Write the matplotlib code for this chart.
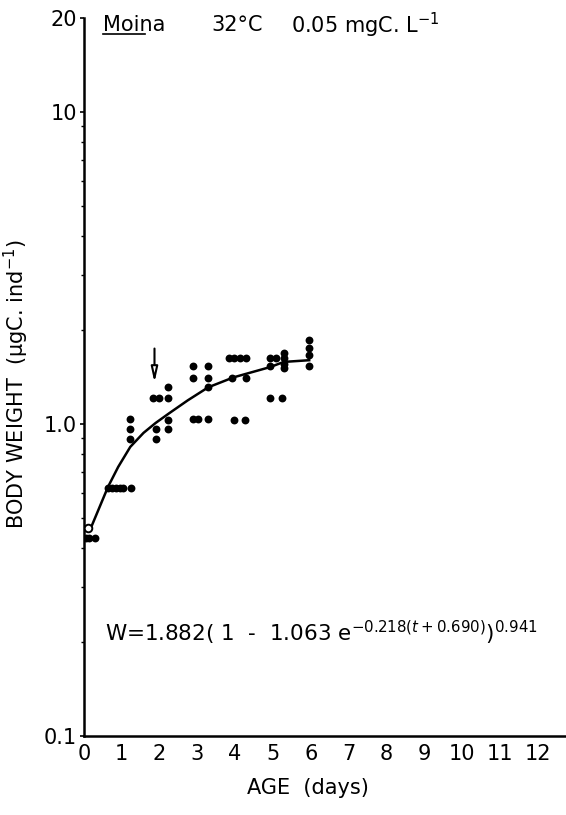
import numpy as np
import matplotlib
matplotlib.use("Agg")
import matplotlib.pyplot as plt
from matplotlib.ticker import FixedLocator, NullFormatter

# measured body weights (ugC per individual) against age (days)
age_pts = [0.05, 0.15, 0.3,
           0.65, 0.75, 0.85, 0.95, 1.05, 1.25,
           1.23, 1.23, 1.23,
           1.84, 1.98, 2.22, 2.22, 2.22, 1.9, 2.22, 1.9,
           2.89, 3.29, 2.89, 3.29, 3.29, 2.89, 3.02, 3.29,
           3.85, 3.98, 4.12, 4.30, 3.93, 4.30, 3.96, 4.25,
           4.92, 5.08, 5.29, 5.29, 5.29, 5.29, 4.92, 4.92, 5.24,
           5.96, 5.96, 5.96, 5.96]
weight_pts = [0.43, 0.43, 0.43,
              0.625, 0.625, 0.625, 0.625, 0.625, 0.625,
              1.04, 0.964, 0.895,
              1.21, 1.21, 1.21, 1.31, 1.03, 0.964, 0.964, 0.895,
              1.53, 1.53, 1.40, 1.40, 1.31, 1.04, 1.04, 1.04,
              1.63, 1.63, 1.63, 1.63, 1.40, 1.40, 1.03, 1.03,
              1.63, 1.63, 1.69, 1.63, 1.56, 1.51, 1.53, 1.21, 1.21,
              1.86, 1.75, 1.66, 1.53]

# open circle at the start of the curve
open_age = [0.1]
open_weight = [0.465]

# fitted growth curve
curve_age = [0.1, 0.2, 0.64, 0.91, 1.23, 1.58, 1.9, 2.25, 2.75, 3.29, 3.96, 4.92, 5.29, 5.96]
curve_weight = [0.465, 0.468, 0.628, 0.728, 0.844, 0.936, 1.007, 1.08, 1.19, 1.31, 1.41, 1.52, 1.58, 1.60]

# arrow marking day of first reproduction
arrow_age = 1.87
arrow_top = 1.78
arrow_tip = 1.33

xticks = list(range(0, 13))
yticks = [0.1, 1.0, 10, 20]
ytick_labels = ["0.1", "1.0", "10", "20"]

plt.rcParams["font.family"] = "DejaVu Sans"

fig = plt.figure(figsize=(5.66, 8.15), dpi=100)
ax = fig.add_axes([0.148, 0.097, 0.852, 0.881])

ax.plot(curve_age, curve_weight, color="black", lw=1.8, zorder=2)
ax.scatter(age_pts, weight_pts, s=32, color="black", zorder=3, linewidths=0)
ax.scatter(open_age, open_weight, s=30, facecolor="white", edgecolor="black",
           linewidths=1.4, zorder=4)

ax.annotate("", xy=(arrow_age, arrow_tip), xytext=(arrow_age, arrow_top),
            arrowprops=dict(arrowstyle="-|>,head_width=0.2,head_length=0.9",
                            facecolor="white", edgecolor="black", lw=1.5))

ax.set_yscale("log")
ax.set_xlim(0, 12.75)
ax.set_ylim(0.1, 20)

ax.yaxis.set_major_locator(FixedLocator(yticks))
ax.set_yticklabels(ytick_labels)
minor = [m * d for d in (0.1, 1.0) for m in range(2, 10)]
ax.yaxis.set_minor_locator(FixedLocator(minor))
ax.yaxis.set_minor_formatter(NullFormatter())
ax.set_xticks(xticks)

for s in ("top", "right"):
    ax.spines[s].set_visible(False)
for s in ("left", "bottom"):
    ax.spines[s].set_linewidth(1.8)

ax.tick_params(axis="both", which="major", labelsize=15, length=3, width=1.2, pad=2)
ax.tick_params(axis="y", which="minor", length=2, width=1.0)
ax.tick_params(axis="x", length=0, pad=6)

ax.set_xlabel("AGE  (days)", fontsize=15)
ax.xaxis.set_label_coords(0.465, -0.058)
ax.set_ylabel(r"BODY WEIGHT  ($\mathrm{\mu}$gC. ind$^{-1}$)", fontsize=15)
ax.yaxis.set_label_coords(-0.11, 0.49)

# header line
ax.text(0.04, 0.99, "Moina", transform=ax.transAxes, fontsize=15, va="center")
ax.plot([0.04, 0.128], [0.977, 0.977], transform=ax.transAxes, color="black",
        lw=1.2, clip_on=False)
ax.text(0.265, 0.99, "32°C", transform=ax.transAxes, fontsize=15, va="center")
ax.text(0.43, 0.99, r"0.05 mgC. L$^{-1}$", transform=ax.transAxes, fontsize=15,
        va="center")

ax.text(0.044, 0.143,
        r"W=1.882( 1  -  1.063 e$^{-0.218(t+0.690)}$)$^{0.941}$",
        transform=ax.transAxes, fontsize=15.5, va="center")

fig.savefig("out.png", dpi=100)
